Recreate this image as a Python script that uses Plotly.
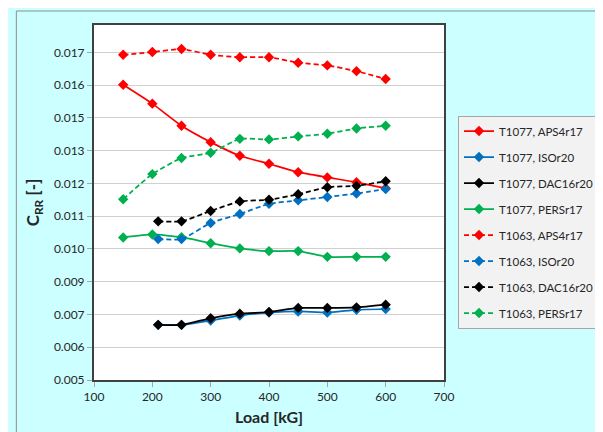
import plotly.graph_objects as go

# ---- data ----
load_a = [150, 200, 250, 300, 350, 400, 450, 500, 550, 600]
load_b = [210, 250, 300, 350, 400, 450, 500, 550, 600]

t1077_aps = [0.01581, 0.01512, 0.01431, 0.01371, 0.01321, 0.01292, 0.01261, 0.01242, 0.01224, 0.01202]
t1077_iso = [0.00702, 0.00702, 0.00718, 0.00736, 0.00747, 0.00751, 0.00747, 0.00757, 0.00760]
t1077_dac = [0.00702, 0.00702, 0.00726, 0.00743, 0.00749, 0.00764, 0.00764, 0.00766, 0.00776]
t1077_pers = [0.01022, 0.01033, 0.01023, 0.01001, 0.00982, 0.00972, 0.00972, 0.00951, 0.00951, 0.00951]
t1063_aps = [0.01691, 0.01701, 0.01712, 0.01691, 0.01682, 0.01682, 0.01662, 0.01652, 0.01631, 0.01602]
t1063_iso = [0.01016, 0.01016, 0.01075, 0.01108, 0.01145, 0.01158, 0.01170, 0.01183, 0.01199]
t1063_dac = [0.01081, 0.01081, 0.01119, 0.01154, 0.01160, 0.01180, 0.01206, 0.01211, 0.01228]
t1063_pers = [0.01162, 0.01254, 0.01313, 0.01332, 0.01383, 0.01381, 0.01392, 0.01402, 0.01421, 0.01431]

series = [
    ("T1077, APS4r17", load_a, t1077_aps, "#FF0000", "solid"),
    ("T1077, ISOr20", load_b, t1077_iso, "#0070C0", "solid"),
    ("T1077, DAC16r20", load_b, t1077_dac, "#000000", "solid"),
    ("T1077, PERSr17", load_a, t1077_pers, "#00B050", "solid"),
    ("T1063, APS4r17", load_a, t1063_aps, "#FF0000", "dash"),
    ("T1063, ISOr20", load_b, t1063_iso, "#0070C0", "dash"),
    ("T1063, DAC16r20", load_b, t1063_dac, "#000000", "dash"),
    ("T1063, PERSr17", load_a, t1063_pers, "#00B050", "dash"),
]

FONT = "Lato"

fig = go.Figure()
for i, (name, x, y, color, dash) in enumerate(series):
    fig.add_trace(go.Scatter(
        x=x, y=y, name=name, mode="lines+markers",
        line=dict(color=color, width=1.75, dash=dash if dash == "solid" else "5px,3px",
                  shape="spline", smoothing=0.5),
        marker=dict(symbol="diamond", size=8, color=color),
        legendgroup=f"g{i}",
    ))

fig.update_layout(
    width=603, height=432,
    margin=dict(l=86, r=152, t=17, b=60),
    paper_bgcolor="#CCFFFF",
    plot_bgcolor="#FFFFFF",
    font=dict(family=FONT, size=12, color="#262626"),
    showlegend=True,
    legend=dict(
        x=1.04, y=0.745, xanchor="left", yanchor="top",
        bgcolor="#F2F2F2", bordercolor="#A6A6A6", borderwidth=1,
        font=dict(family=FONT, size=11.5, color="#262626"),
        traceorder="grouped", tracegroupgap=7,
    ),
    xaxis=dict(
        range=[100, 700], tick0=100, dtick=100,
        showgrid=False, zeroline=False,
        showline=True, linecolor="#404040", linewidth=2, mirror=True,
        ticks="outside", ticklen=5, tickcolor="#A6A6A6",
        tickfont=dict(size=12),
        title=dict(text="<b>Load [kG]</b>", font=dict(size=16, color="#262626"), standoff=8),
    ),
    yaxis=dict(
        range=[0.005, 0.018], tick0=0.005, dtick=0.0012, tickformat=".3f",
        showgrid=True, gridcolor="#D0D0D0", gridwidth=1,
        zeroline=False,
        showline=True, linecolor="#404040", linewidth=2, mirror=True,
        ticks="outside", ticklen=5, tickcolor="#A6A6A6",
        tickfont=dict(size=12),
        title=dict(text="<b>C<sub>RR</sub> [-]</b>", font=dict(size=17, color="#262626"), standoff=10),
    ),
    shapes=[
        dict(type="line", xref="paper", yref="paper", x0=-0.2219, x1=1.5, y0=1.0394, y1=1.0394,
             line=dict(color="#8C8C8C", width=1)),
        dict(type="line", xref="paper", yref="paper", x0=-0.2219, x1=-0.2219, y0=1.0394, y1=-0.5,
             line=dict(color="#8C8C8C", width=1)),
    ],
)

fig.write_html("out.html")
